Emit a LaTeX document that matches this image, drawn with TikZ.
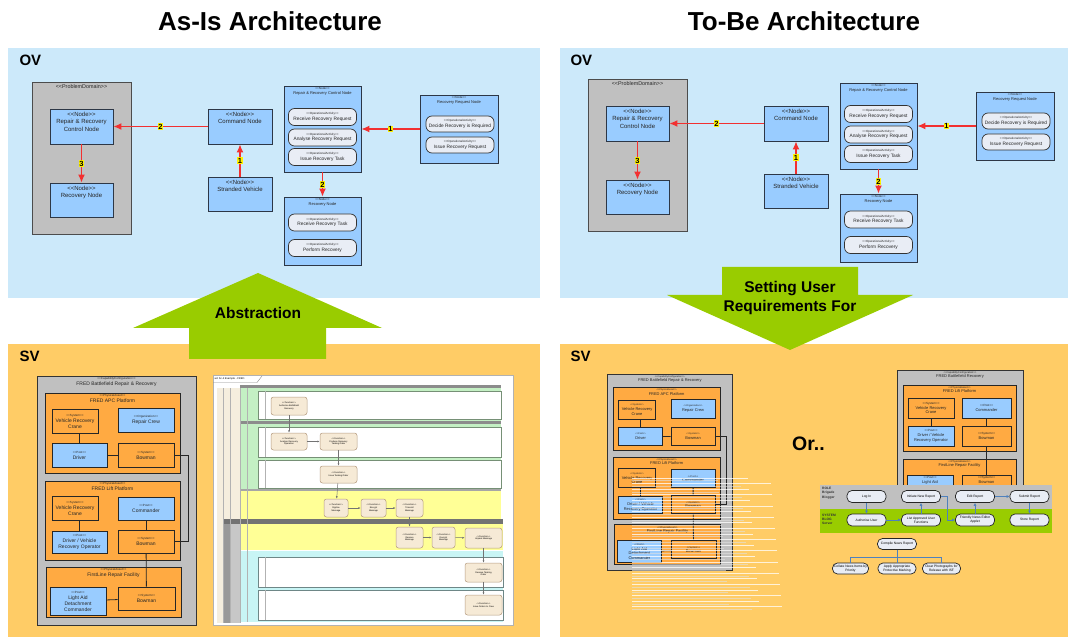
\documentclass[tikz,border=0pt]{standalone}
\usepackage{fontspec}
\setmainfont{Liberation Sans}
\usetikzlibrary{arrows.meta}

\definecolor{ovblue}{RGB}{204,233,250}
\definecolor{svorange}{RGB}{255,204,102}
\definecolor{arrowgreen}{RGB}{153,204,0}
\definecolor{nodeblue}{RGB}{153,204,255}
\definecolor{assetorange}{RGB}{255,170,66}
\definecolor{domaingray}{RGB}{192,192,192}
\definecolor{pillfill}{RGB}{233,237,245}
\definecolor{flowred}{RGB}{242,48,48}
\definecolor{edgedark}{RGB}{45,55,70}
\definecolor{linkblue}{RGB}{79,129,189}
\definecolor{actfill}{RGB}{246,234,214}
\definecolor{lanegreen}{RGB}{196,240,196}
\definecolor{laneyellow}{RGB}{255,255,150}
\definecolor{lanecyan}{RGB}{200,245,245}
\definecolor{lanebeige}{RGB}{245,238,222}

\newcommand\stereo[1]{<{}<#1>{}>}
\newcommand\szst{\fontsize{3}{3.6}\selectfont}
\newcommand\szsm{\fontsize{4}{4.8}\selectfont}
\newcommand\szmd{\fontsize{5}{6}\selectfont}
\newcommand\szlg{\fontsize{6}{7.5}\selectfont}

\begin{document}
\begin{tikzpicture}[x=1pt, y=-1pt,
  title/.style={font=\bfseries\fontsize{26}{28}\selectfont},
  panel tag/.style={anchor=west, font=\bfseries\fontsize{15}{15}\selectfont},
  arrow text/.style={font=\bfseries\fontsize{15.5}{19}\selectfont, align=center},
  top title/.style={anchor=north, align=center, inner sep=0pt, text=black!85},
  opnode/.style={draw=edgedark, fill=nodeblue, line width=0.9pt},
  domainbox/.style={draw=black!70, fill=domaingray, line width=0.9pt},
  pill/.style={draw=black!80, fill=pillfill, rounded corners=6pt, line width=0.7pt,
    align=center, inner sep=0pt, minimum width=68, minimum height=17,
    text=black!85, font=\fontsize{4.8}{5.8}\selectfont},
  flow/.style={draw=flowred, line width=1.2pt, -{Latex[length=8pt,width=7pt]}},
  num/.style={fill=yellow, inner sep=0.6pt, font=\bfseries\fontsize{7.5}{7.5}\selectfont},
  capbox/.style={draw=black!80, fill=domaingray, line width=0.8pt},
  asset/.style={draw=black!85, fill=assetorange, line width=0.8pt},
  sysbox/.style={draw=black!85, fill=assetorange, line width=0.8pt, align=center,
    inner sep=0pt, text=black!85, font=\szmd},
  postbox/.style={draw=black!85, fill=nodeblue, line width=0.8pt, align=center,
    inner sep=0pt, text=black!85, font=\szmd},
  wire/.style={draw=black!85, line width=0.8pt},
  act/.style={draw=brown!70!black!60, fill=actfill, rounded corners=2.5pt, line width=0.5pt,
    align=center, inner sep=0pt, font=\fontsize{2.2}{2.7}\selectfont},
  actflow/.style={draw=black!55, line width=0.5pt, -{Latex[length=2.5pt,width=2pt]}},
  sublane/.style={fill=white, line width=0.5pt},
  task/.style={draw=black!85, fill=pillfill, rounded corners=5pt, line width=0.7pt,
    minimum width=39, minimum height=12, inner sep=0pt, align=center,
    font=\fontsize{3.3}{3.8}\selectfont},
  lanetag/.style={anchor=west, align=left, inner sep=0pt, text=black!80,
    font=\bfseries\fontsize{3.3}{4.2}\selectfont},
  blogflow/.style={draw=linkblue, line width=0.9pt, -{Latex[length=3pt,width=3pt]}},
  treeline/.style={draw=linkblue, line width=0.9pt},
  stripe/.style={draw=white, line width=0.9pt, opacity=0.75}]

\useasboundingbox (0,0) rectangle (1072,639);

% headings and panels
\node[title] (asis) at (270,21) {As-Is Architecture};
\node[title] (tobe) at (804,21) {To-Be Architecture};
\fill[ovblue] (8,48) rectangle (540,298);
\fill[ovblue] (560,48) rectangle (1068,298);
\fill[svorange] (8,344) rectangle (540,637);
\fill[svorange] (560,344) rectangle (1068,637);
\node[panel tag] (ovl) at (16,60) {OV};
\node[panel tag] (ovr) at (567,60) {OV};
\node[panel tag] (svl) at (16,356) {SV};
\node[panel tag] (svr) at (567,356) {SV};

% operational views
\foreach \side/\dx/\dy in {L/0/0, R/556/-3}{
  \begin{scope}[shift={(\dx,\dy)}, name prefix=\side-]
    \node[domainbox, minimum width=99, minimum height=152,
      label={[top title, yshift=-3pt, font=\fontsize{5.4}{6}\selectfont]north:{\stereo{ProblemDomain}}}]
      (pd) at (81.5,158) {};
    \node[opnode, minimum width=63, minimum height=35,
      label={[top title, yshift=-3pt, font=\szlg]north:{\stereo{Node}\\Repair \& Recovery\\Control Node}}]
      (rrc) at (81.5,126.5) {};
    \node[opnode, minimum width=63, minimum height=34,
      label={[top title, yshift=-3pt, font=\szlg]north:{\stereo{Node}\\Recovery Node}}]
      (rn) at (81.5,200) {};
    \node[opnode, minimum width=64, minimum height=35,
      label={[top title, yshift=-3pt, font=\szlg]north:{\stereo{Node}\\Command Node}}]
      (cmd) at (240,126.5) {};
    \node[opnode, minimum width=64, minimum height=34,
      label={[top title, yshift=-3pt, font=\szlg]north:{\stereo{Node}\\Stranded Vehicle}}]
      (sv) at (240,194) {};
    \node[opnode, minimum width=77, minimum height=86,
      label={[top title, yshift=-2pt, font=\szsm]north:{{\szst\stereo{Node}}\\Repair \& Recovery Control Node}}]
      (rra) at (322.5,129) {};
    \node[pill] (rra1) at (322.5,117) {{\szst\stereo{OperationalActivity}}\\Receive Recovery Request};
    \node[pill] (rra2) at (322.5,137.5) {{\szst\stereo{OperationalActivity}}\\Analyse Recovery Request};
    \node[pill] (rra3) at (322.5,157) {{\szst\stereo{OperationalActivity}}\\Issue Recovery Task};
    \node[opnode, minimum width=77, minimum height=68,
      label={[top title, yshift=-2pt, font=\szsm]north:{{\szst\stereo{Node}}\\Recovery Node}}]
      (rna) at (322.5,231) {};
    \node[pill] (rna1) at (322.5,222.5) {{\szst\stereo{OperationalActivity}}\\Receive Recovery Task};
    \node[pill] (rna2) at (322.5,248) {{\szst\stereo{OperationalActivity}}\\Perform Recovery};
    \node[opnode, minimum width=78, minimum height=68,
      label={[top title, yshift=-2pt, font=\szsm]north:{{\szst\stereo{Node}}\\Recovery Request Node}}]
      (rrq) at (459,129) {};
    \node[pill, minimum height=16] (rrq1) at (460,124) {{\szst\stereo{OperationalActivity}}\\Decide Recovery is Required};
    \node[pill, minimum height=16] (rrq2) at (460,145) {{\szst\stereo{OperationalActivity}}\\Issue Recovery Request};
    \draw[flow] (sv) -- node[num] (f1) {1} (cmd);
    \draw[flow] (cmd) -- node[num] (f2) {2} (rrc);
    \draw[flow] (rrc) -- node[num] (f3) {3} (rn);
    \draw[flow] (rrq) -- node[num] (g1) {1} (rra);
    \draw[flow] (rra) -- node[num] (g2) {2} (rna);
  \end{scope}
}

% big arrows between the views
\fill[arrowgreen] (189,359) -- (189,328) -- (133,328) -- (258,273) -- (382,328)
  -- (326,328) -- (326,359) -- cycle;
\node[arrow text] (abstr) at (258,313) {Abstraction};
\fill[arrowgreen] (722,267) -- (858,267) -- (858,295) -- (913,295) -- (790,350)
  -- (667,295) -- (722,295) -- cycle;
\node[arrow text] (setreq) at (790,297.5) {Setting User\\Requirements For};

% system views: capability configuration
\foreach \side/\sx/\sy/\sc in {L/37/376/1, R/607/374/0.79}{
  \begin{scope}[shift={(\sx,\sy)}, scale=\sc, transform shape, name prefix=\side-]
    \node[capbox, minimum width=159, minimum height=249,
      label={[top title, yshift=-2pt, font=\szmd]north:{{\szst\stereo{CapabilityConfiguration}}\\FRED Battlefield Repair \& Recovery}}]
      (cap) at (79.5,124.5) {};
    \node[asset, minimum width=135, minimum height=80,
      label={[top title, yshift=-2pt, font=\szmd]north:{{\szst\stereo{PhysicalAsset}}\\FRED APC Platform}}]
      (apc) at (75.5,57) {};
    \node[sysbox, minimum width=46, minimum height=24] (crane1) at (38,45) {{\szst\stereo{System}}\\Vehicle Recovery\\Crane};
    \node[postbox, minimum width=56, minimum height=24] (crew) at (109,44) {{\szst\stereo{Organization}}\\Repair Crew};
    \node[postbox, minimum width=55, minimum height=24] (drv) at (42.5,79) {{\szst\stereo{Post}}\\Driver};
    \node[sysbox, minimum width=56, minimum height=24] (bow1) at (109,79) {{\szst\stereo{System}}\\Bowman};
    \node[asset, minimum width=135, minimum height=79,
      label={[top title, yshift=-2pt, font=\szmd]north:{{\szst\stereo{PhysicalAsset}}\\FRED Lift Platform}}]
      (lift) at (75.5,144.5) {};
    \node[sysbox, minimum width=46, minimum height=24] (crane2) at (38,132) {{\szst\stereo{System}}\\Vehicle Recovery\\Crane};
    \node[postbox, minimum width=56, minimum height=23] (cmdr) at (109,132.5) {{\szst\stereo{Post}}\\Commander};
    \node[postbox, minimum width=55, minimum height=22] (dvro) at (42.5,166) {{\szst\stereo{Post}}\\Driver / Vehicle\\Recovery Operator};
    \node[sysbox, minimum width=56, minimum height=23] (bow2) at (109,165.5) {{\szst\stereo{System}}\\Bowman};
    \node[asset, minimum width=135, minimum height=50,
      label={[top title, yshift=-2pt, font=\szmd]north:{{\szst\stereo{PhysicalAsset}}\\FirstLine Repair Facility}}]
      (fl) at (76.5,216) {};
    \node[postbox, minimum width=56, minimum height=28] (lad) at (41,225) {{\szst\stereo{Post}}\\Light Aid\\Detachment\\Commander};
    \node[sysbox, minimum width=57, minimum height=23] (bow3) at (109.5,222.5) {{\szst\stereo{System}}\\Bowman};
    \draw[wire] (crane1.south -| drv.north) -- (drv.north);
    \draw[wire] (drv) -- (bow1);
    \draw[wire] (bow1.east) -- ++(14,0) |- (bow2.east);
    \draw[wire] (crane2.south -| dvro.north) -- (dvro.north);
    \draw[wire] (cmdr) -- (bow2);
    \draw[wire] (bow2) -- (bow3);
    \draw[wire] (lad) -- (bow3);
  \end{scope}
}

% activity diagram capture
\draw[black!30, fill=white] (213,375) rectangle (513,625);
\draw[black!45, line width=0.4pt] (213,382.5) -- (257,382.5) -- (262,376);
\node[anchor=west, inner sep=0.5pt, font=\fontsize{2.6}{3}\selectfont] (acttab) at (214,379) {act Sc-4 Example - FRED};
\fill[lanebeige] (217,388) rectangle (240,623);
\fill[black!40] (223,521) rectangle (230,623);
\fill[black!22] (230,521) rectangle (240,623);
\fill[black!45] (240,385) rectangle (501,388);
\fill[lanegreen] (240,388) rectangle (501,490);
\fill[black!45] (240,421) rectangle (501,424);
\fill[black!35] (240,489) rectangle (501,491);
\fill[laneyellow] (240,491) rectangle (501,519);
\fill[black!55] (223,519) rectangle (503,524);
\fill[laneyellow] (240,524) rectangle (503,550);
\fill[lanecyan] (240,551) rectangle (503,622);
\draw[sublane, draw=lanegreen!60!black] (258,391) rectangle (501,419);
\draw[sublane, draw=lanegreen!60!black] (258,427) rectangle (501,457);
\draw[sublane, draw=lanegreen!60!black] (258,460) rectangle (501,488);
\draw[sublane, draw=lanecyan!55!black] (258,557) rectangle (503,587);
\draw[sublane, draw=lanecyan!55!black] (258,590) rectangle (503,620);
\draw[black!30, line width=0.4pt] (223,388) -- (223,623) (230,388) -- (230,623)
  (240,388) -- (240,623) (247,388) -- (247,622)
  (265,391) -- (265,419) (265,427) -- (265,457) (265,460) -- (265,488)
  (265,557) -- (265,587) (265,590) -- (265,620);
\node[act, minimum width=36, minimum height=18] (a1) at (289,406) {\stereo{Function}\\Authorise Battlefield\\Recovery};
\node[act, minimum width=36, minimum height=17] (b1) at (289,441.5) {\stereo{Function}\\Analyse Recovery\\Operation};
\node[act, minimum width=37, minimum height=17] (b2) at (338.5,441.5) {\stereo{Function}\\Produce Recovery\\Tasking Order};
\node[act, minimum width=37, minimum height=17] (b3) at (338.5,474.5) {\stereo{Function}\\Issue Tasking Order};
\node[act, minimum width=24, minimum height=18] (c1) at (336,508) {\stereo{Function}\\Digitise\\Message};
\node[act, minimum width=25, minimum height=18] (c2) at (373.5,508) {\stereo{Function}\\Encrypt\\Message};
\node[act, minimum width=27, minimum height=18] (c3) at (409.5,508) {\stereo{Function}\\Transmit\\Message};
\node[act, minimum width=27, minimum height=21] (d1) at (409.5,537.5) {\stereo{Function}\\Receive\\Message};
\node[act, minimum width=23, minimum height=21] (d2) at (443.5,537.5) {\stereo{Function}\\Decrypt\\Message};
\node[act, minimum width=37, minimum height=20] (d3) at (483.5,538) {\stereo{Function}\\Unpack Message};
\node[act, minimum width=37, minimum height=19] (e1) at (483.5,572.5) {\stereo{Function}\\Receive Tasking\\Order};
\node[act, minimum width=37, minimum height=20] (e2) at (483.5,605) {\stereo{Function}\\Issue Orders to Crew};
\draw[actflow] (a1) -- (b1);
\draw[actflow] (b1) -- (b2);
\draw[actflow] (b2) -- (b3);
\draw[actflow] (b3) -- (c1);
\draw[actflow] (c1) -- (c2);
\draw[actflow] (c2) -- (c3);
\draw[actflow] (c3) -- (d1);
\draw[actflow] (d1) -- (d2);
\draw[actflow] (d2) -- (d3);
\draw[actflow] (d3) -- (e1);
\draw[actflow] (e1) -- (e2);

% broken rendering lines over the to-be configuration
\foreach \k in {0,...,23}{
  \pgfmathsetmacro\yy{478+5.6*\k}
  \pgfmathsetmacro\xe{748+mod(\k*23,45)}
  \draw[stripe] (632,\yy) -- (\xe,\yy);
  \draw[black!12, line width=0.6pt, opacity=0.6] (632,\yy+2.6) -- (\xe-30,\yy+2.6);
}

\node[anchor=base west, inner sep=0pt, font=\bfseries\fontsize{19.5}{20}\selectfont] (orx) at (792,450) {Or..};

% alternative configuration
\node[capbox, minimum width=126, minimum height=150,
  label={[top title, yshift=-1.5pt, font=\szsm]north:{{\fontsize{2.6}{3}\selectfont\stereo{CapabilityConfiguration}}\\FRED Battlefield Recovery}}]
  (cap3) at (960,445) {};
\node[asset, minimum width=113, minimum height=66,
  label={[top title, yshift=-1.5pt, font=\szsm]north:{{\fontsize{2.6}{3}\selectfont\stereo{PhysicalAsset}}\\FRED Lift Platform}}]
  (lift3) at (959.5,418) {};
\node[sysbox, font=\szsm, minimum width=46, minimum height=20] (crane3) at (931,408) {{\szst\stereo{System}}\\Vehicle Recovery\\Crane};
\node[postbox, font=\szsm, minimum width=49, minimum height=20] (cmdr3) at (986.5,408) {{\szst\stereo{Post}}\\Commander};
\node[postbox, font=\szsm, minimum width=46, minimum height=20] (dvro3) at (931,436) {{\szst\stereo{Post}}\\Driver / Vehicle\\Recovery Operator};
\node[sysbox, font=\szsm, minimum width=49, minimum height=20] (bow4) at (986.5,436) {{\szst\stereo{System}}\\Bowman};
\node[asset, minimum width=113, minimum height=56,
  label={[top title, yshift=-1.5pt, font=\szsm]north:{{\fontsize{2.6}{3}\selectfont\stereo{PhysicalAsset}}\\FirstLine Repair Facility}}]
  (fl3) at (959.5,487) {};
\node[postbox, minimum width=46, minimum height=37,
  label={[top title, yshift=-2pt, font=\szsm]north:{{\szst\stereo{Post}}\\Light Aid}}]
  (lad3) at (930,493.5) {};
\node[sysbox, minimum width=49, minimum height=37,
  label={[top title, yshift=-2pt, font=\szsm]north:{{\szst\stereo{System}}\\Bowman}}]
  (bow5) at (986.5,493.5) {};
\draw[wire] (crane3) -- (dvro3);
\draw[wire] (cmdr3) -- (bow4);
\draw[wire] (bow4) -- (bow5);

% blogging process
\node[fill=domaingray, minimum width=232, minimum height=24, inner sep=0pt] (roleband) at (936,497) {};
\node[fill=arrowgreen, minimum width=232, minimum height=24, inner sep=0pt] (sysband) at (936,521) {};
\node[lanetag] (rolelab) at (822,493) {ROLE\\Brigade\\Blogger};
\node[lanetag] (syslab) at (822,519.5) {SYSTEM\\BLOG\\Server};
\node[task] (login) at (866.5,496.5) {Log In};
\node[task] (init) at (921,496.5) {Initiate New Report};
\node[task] (edit) at (975,496.5) {Edit Report};
\node[task] (submit) at (1029.5,496.5) {Submit Report};
\node[task] (auth) at (866.5,520) {Authorise User};
\node[task] (list) at (921,520) {List Approved User\\Functions};
\node[task] (fne) at (975,520) {Friendly News Editor\\Applet};
\node[task] (store) at (1029.5,520) {Store Report};
\draw[blogflow] (login) -- (auth);
\draw[blogflow] (auth) -- (list);
\draw[blogflow] (list) -- (init);
\draw[blogflow] (init.east) -- ++(7,0) |- (fne.west);
\draw[blogflow] (fne) -- (edit);
\draw[blogflow] (edit) -- (submit);
\draw[blogflow] (submit) -- (store);

\node[task, minimum height=11] (compile) at (897,544) {Compile News Report};
\node[task, minimum width=36, minimum height=11] (collate) at (850.5,568.5) {Collate News Items by\\Priority};
\node[task, minimum width=38, minimum height=11] (apply) at (897,568.5) {Apply Appropriate\\Protective Marking};
\node[task, minimum width=38, minimum height=11] (clear) at (941.5,568.5) {Clear Photographs for\\Release with ISF};
\draw[treeline] (compile.south) -- ++(0,8) -| (collate.north);
\draw[treeline] (compile.south) -- ++(0,8) -| (clear.north);
\draw[treeline] (compile) -- (apply);

\end{tikzpicture}
\end{document}
